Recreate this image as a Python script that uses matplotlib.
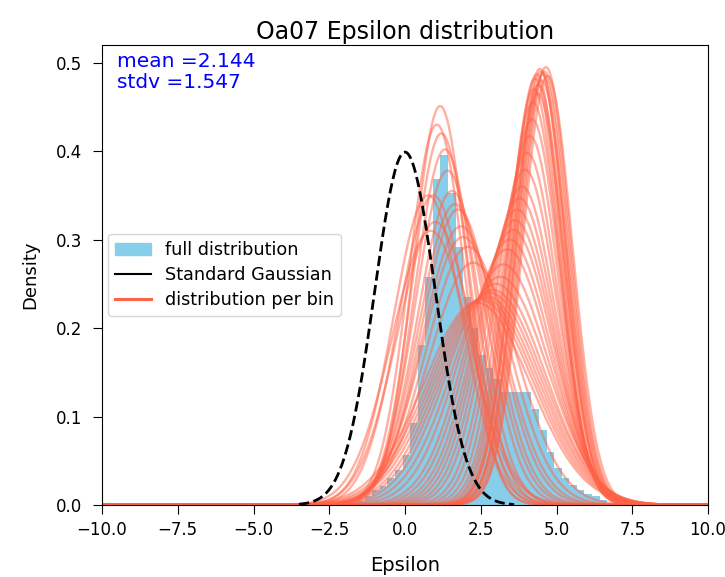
import numpy as np
import matplotlib
matplotlib.use("Agg")
import matplotlib.pyplot as plt
from matplotlib.patches import Patch
from matplotlib.lines import Line2D

# ---- data ----
bin_width = 0.25
bin_start = -1.58
hist_heights = [0.005, 0.010, 0.017, 0.022, 0.030, 0.040, 0.057, 0.093, 0.181,
                0.258, 0.369, 0.396, 0.353, 0.292, 0.235, 0.200, 0.170, 0.155,
                0.142, 0.128, 0.128, 0.128, 0.128, 0.108, 0.085, 0.060, 0.042,
                0.030, 0.023, 0.017, 0.013, 0.010, 0.006]

# per-bin distributions: centre and peak density
bin_means = [1.16, 1.05, 1.32, 1.20, 1.40, 0.93, 0.76, 1.55, 1.65, 1.75, 1.85, 1.92, 2.08, 2.25, 1.00, 0.85,
             2.38, 2.50, 2.60, 2.70, 2.80, 2.90, 3.00, 3.14, 3.25, 3.37, 3.46, 3.56, 3.63, 3.70, 3.78,
             3.86, 3.96, 4.03, 4.12, 4.19, 4.22,
             4.25, 4.30, 4.35, 4.40, 4.45, 4.50, 4.55, 4.60, 4.65, 4.70, 4.38, 4.48]
bin_peaks = [0.451, 0.430, 0.402, 0.420, 0.378, 0.350, 0.350, 0.355, 0.340, 0.334, 0.315, 0.303, 0.292, 0.274, 0.320, 0.310,
             0.229, 0.232, 0.234, 0.236, 0.240, 0.243, 0.250, 0.258, 0.272, 0.289, 0.300, 0.311, 0.322, 0.334, 0.347,
             0.360, 0.379, 0.398, 0.417, 0.436, 0.455,
             0.470, 0.482, 0.487, 0.475, 0.493, 0.480, 0.488, 0.490, 0.495, 0.485, 0.465, 0.490]

mean_text = "mean =2.144"
stdv_text = "stdv =1.547"
gauss_range = (-3.5, 3.6)

# ---- figure ----
fig = plt.figure(figsize=(7.25, 5.77), dpi=100)
ax = fig.add_axes([102/725, 1 - 505/577, (708 - 102)/725, (505 - 45)/577])

edges = bin_start + bin_width * np.arange(len(hist_heights) + 1)
centers = (edges[:-1] + edges[1:]) / 2
ax.hist(centers, bins=edges, weights=hist_heights, color='skyblue', zorder=1)

x = np.linspace(-10, 10, 1500)
for m, p in zip(bin_means, bin_peaks):
    s = 1.0 / (p * np.sqrt(2 * np.pi))
    y = np.exp(-0.5 * ((x - m) / s) ** 2) / (s * np.sqrt(2 * np.pi))
    ax.plot(x, y, color='tomato', alpha=0.5, lw=1.7, zorder=2)

xg = np.linspace(gauss_range[0], gauss_range[1], 300)
ax.plot(xg, np.exp(-0.5 * xg ** 2) / np.sqrt(2 * np.pi), color='black', ls='--', lw=2, zorder=3)

ax.set_xlim(-10, 10)
ax.set_ylim(0, 0.52)
ax.set_xticks(np.arange(-10, 10.1, 2.5))
ax.set_yticks([0.0, 0.1, 0.2, 0.3, 0.4, 0.5])
ax.tick_params(labelsize=12, length=6.5)
ax.tick_params(axis='x', pad=5)
ax.tick_params(axis='y', pad=8)
ax.set_xlabel("Epsilon", fontsize=14, labelpad=12)
ax.set_ylabel("Density", fontsize=13, labelpad=12)
ax.set_title("Oa07 Epsilon distribution", fontsize=17, pad=4)

ax.text(0.025, 0.985, mean_text + "\n" + stdv_text, transform=ax.transAxes,
        va='top', ha='left', color='blue', fontsize=14.5, linespacing=1.15)

handles = [Patch(color='skyblue'),
           Line2D([0], [0], color='black', lw=1.5),
           Line2D([0], [0], color='tomato', lw=2.2)]
labels = ["full distribution", "Standard Gaussian", "distribution per bin"]
ax.legend(handles, labels, loc='center left', fontsize=12.7, borderaxespad=0.35,
          labelspacing=0.4)

fig.savefig("out.png", dpi=100)
